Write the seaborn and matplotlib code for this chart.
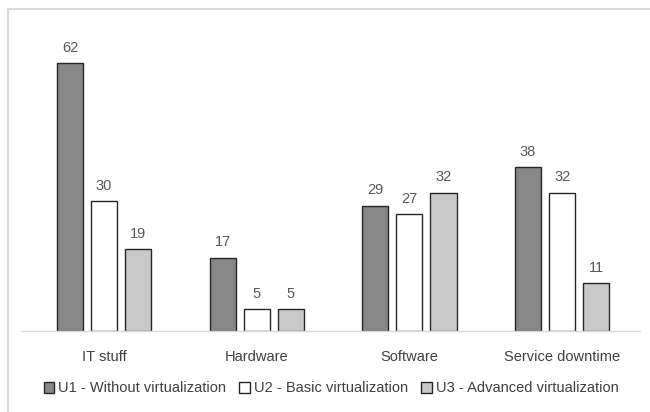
import pandas as pd
import matplotlib.pyplot as plt
import seaborn as sns
from matplotlib.lines import Line2D

# values
categories = ["IT stuff", "Hardware", "Software", "Service downtime"]
series = ["U1 - Without virtualization", "U2 - Basic virtualization", "U3 - Advanced virtualization"]
u1_values = [62, 17, 29, 38]
u2_values = [30, 5, 27, 32]
u3_values = [19, 5, 32, 11]
colors = ["#878787", "#ffffff", "#c9c9c9"]


def main():
    sns.set_style("white")
    plt.rcParams['font.family'] = ['Liberation Sans', 'DejaVu Sans']

    rows = []
    for name, vals in zip(series, [u1_values, u2_values, u3_values]):
        for cat, v in zip(categories, vals):
            rows.append({"category": cat, "series": name, "value": v})
    df = pd.DataFrame(rows)

    fig = plt.figure(figsize=(6.5, 4.12), dpi=100, facecolor="white", edgecolor="white", linewidth=0)
    ax = fig.add_axes([22 / 650, 1 - 331 / 412, 618 / 650, (331 - 28.6) / 412])

    sns.barplot(data=df, x="category", y="value", hue="series", order=categories,
                hue_order=series, palette=colors, width=0.67, gap=0.235,
                edgecolor="#262626", linewidth=1.0, ax=ax)

    for cont in ax.containers:
        ax.bar_label(cont, padding=6, color="#595959", fontsize=10.5)

    ax.set_ylim(0, 70)
    ax.set_xlim(-0.537, 3.51)
    ax.set_xlabel("")
    ax.set_ylabel("")
    ax.set_yticks([])
    ax.tick_params(axis="x", length=0, pad=14, labelsize=10.5, labelcolor="#404040")
    for s in ["top", "right", "left"]:
        ax.spines[s].set_visible(False)
    ax.spines["bottom"].set_color("#d9d9d9")
    ax.spines["bottom"].set_linewidth(1.0)

    handles, labels = ax.get_legend_handles_labels()
    ax.legend(handles, labels, loc="center", bbox_to_anchor=(0.5, -0.19), ncol=3,
              frameon=False, fontsize=10.5, handlelength=0.75, handleheight=0.75,
              handletextpad=0.25, columnspacing=0.9, labelcolor="#404040")

    # outer chart frame, only left and top edges are visible
    fx = 7.5 / 650
    fy = 1 - 8.5 / 412
    fig.lines.append(Line2D([fx, fx], [0, fy], transform=fig.transFigure,
                            color="#d9d9d9", linewidth=1.5))
    fig.lines.append(Line2D([fx, 1], [fy, fy], transform=fig.transFigure,
                            color="#d9d9d9", linewidth=1.5))

    fig.savefig("out.png", dpi=100)


if __name__ == "__main__":
    main()
